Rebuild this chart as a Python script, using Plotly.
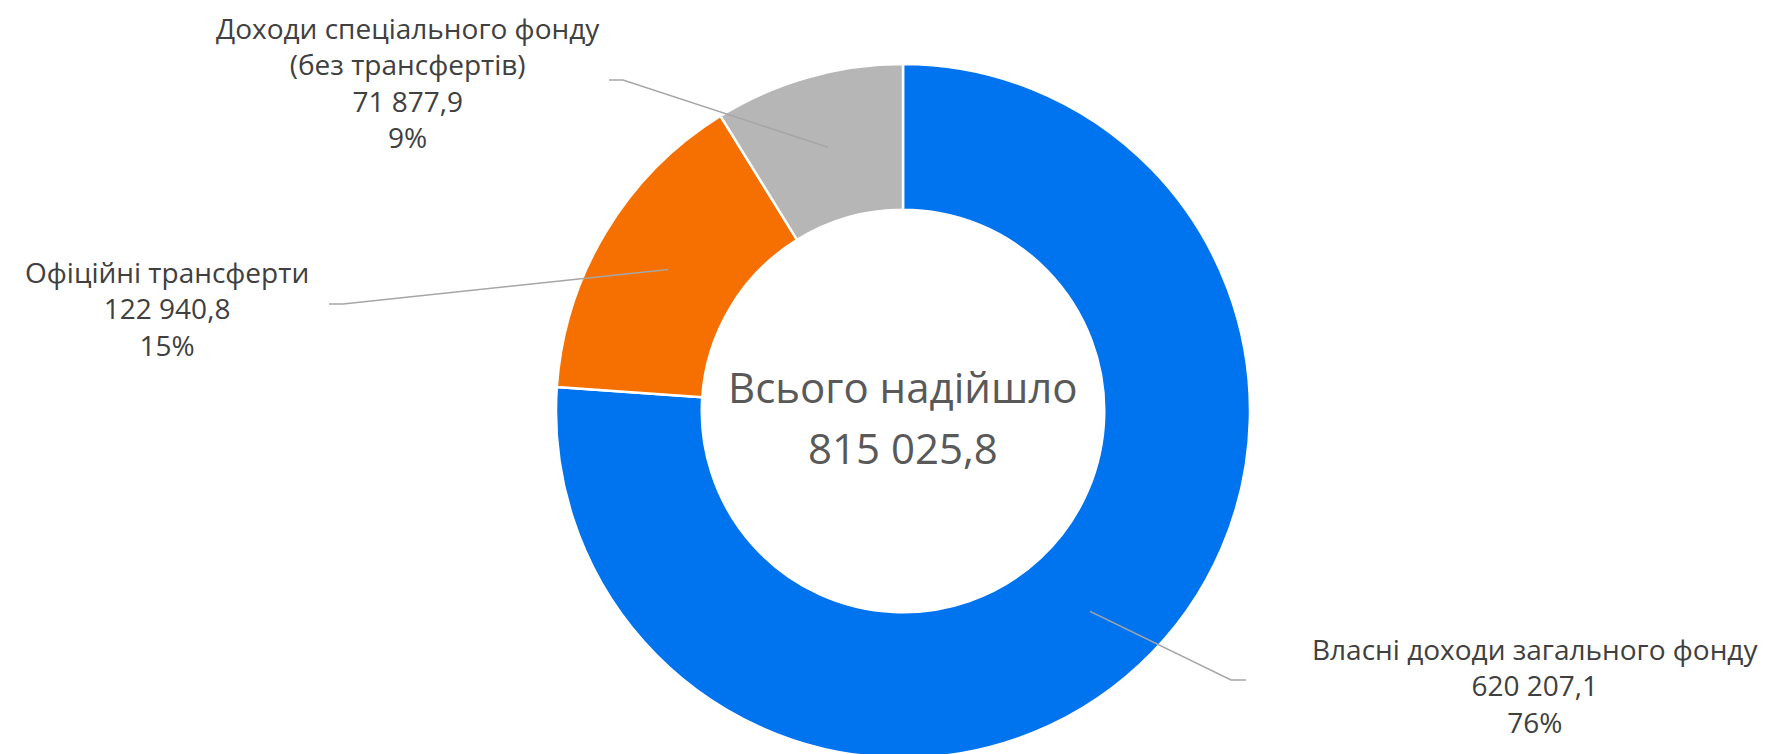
import numpy as np
import plotly.graph_objects as go

# revenue structure, values
categories = ["Власні доходи загального фонду",
              "Офіційні трансферти",
              "Доходи спеціального фонду<br>(без трансфертів)"]
values = [620207.1, 122940.8, 71877.9]
colors = ["#0073EE", "#F57000", "#B6B6B6"]
center_title = "Всього надійшло"

W, H = 1766, 754
OFF = 8                      # page body margin
cx, cy, R = 903, 411, 347    # pie centre / radius, screen px
hole = 0.58
FW, FH = W - OFF, H          # figure size

# label elbow and text positions (screen px from top-left)
elbows = [(1231, 680), (343, 304), (623, 80)]
ends = [(1246, 680), (329, 304), (609, 80)]
label_pos = [(1535, 685), (167, 309), (408, 82)]


def fmt(v):
    return f"{v:,.1f}".replace(",", " ").replace(".", ",")


def px(x, y):
    return (x - OFF) / FW, 1 - (y - OFF) / FH


total = sum(values)

x0, y1 = px(cx - R, cy - R)
x1, y0 = px(cx + R, cy + R)
fig = go.Figure()
fig.add_trace(go.Pie(
    labels=categories, values=values,
    hole=hole, sort=False, direction="clockwise", rotation=0,
    marker=dict(colors=colors, line=dict(color="white", width=2.5)),
    textinfo="none", hoverinfo="label+value+percent",
    domain=dict(x=[x0, x1], y=[max(y0, 0), y1]),
    showlegend=False,
))

# leader lines start at the middle of each ring segment
cum = np.cumsum([0] + values)
r_mid = R * (1 + hole) / 2
shapes = []
annotations = []
for i, v in enumerate(values):
    frac = (cum[i] + v / 2) / total
    ang = 2 * np.pi * frac
    sx, sy = cx + r_mid * np.sin(ang), cy - r_mid * np.cos(ang)
    p0 = px(sx, sy)
    p1 = px(*elbows[i])
    p2 = px(*ends[i])
    shapes.append(dict(type="path", xref="paper", yref="paper",
                       path=f"M {p0[0]},{p0[1]} L {p1[0]},{p1[1]} L {p2[0]},{p2[1]}",
                       line=dict(color="#A6A6A6", width=1.5)))
    lx, ly = px(*label_pos[i])
    pct = round(v / total * 100)
    annotations.append(dict(x=lx, y=ly, xref="paper", yref="paper",
                            xanchor="center", yanchor="middle", showarrow=False,
                            text=f"{categories[i]}<br>{fmt(v)}<br>{pct}%",
                            font=dict(family="Open Sans", size=28, color="#404040")))

for txt, ty in [(center_title, 386), (fmt(total), 447)]:
    tx_, ty_ = px(cx, ty)
    annotations.append(dict(x=tx_, y=ty_, xref="paper", yref="paper",
                            xanchor="center", yanchor="middle", showarrow=False,
                            text=txt,
                            font=dict(family="Open Sans", size=42, color="#595959")))

fig.update_layout(width=FW, height=FH, margin=dict(l=0, r=0, t=0, b=0),
                  paper_bgcolor="white", plot_bgcolor="white",
                  shapes=shapes, annotations=annotations)
fig.write_html("out.html")
